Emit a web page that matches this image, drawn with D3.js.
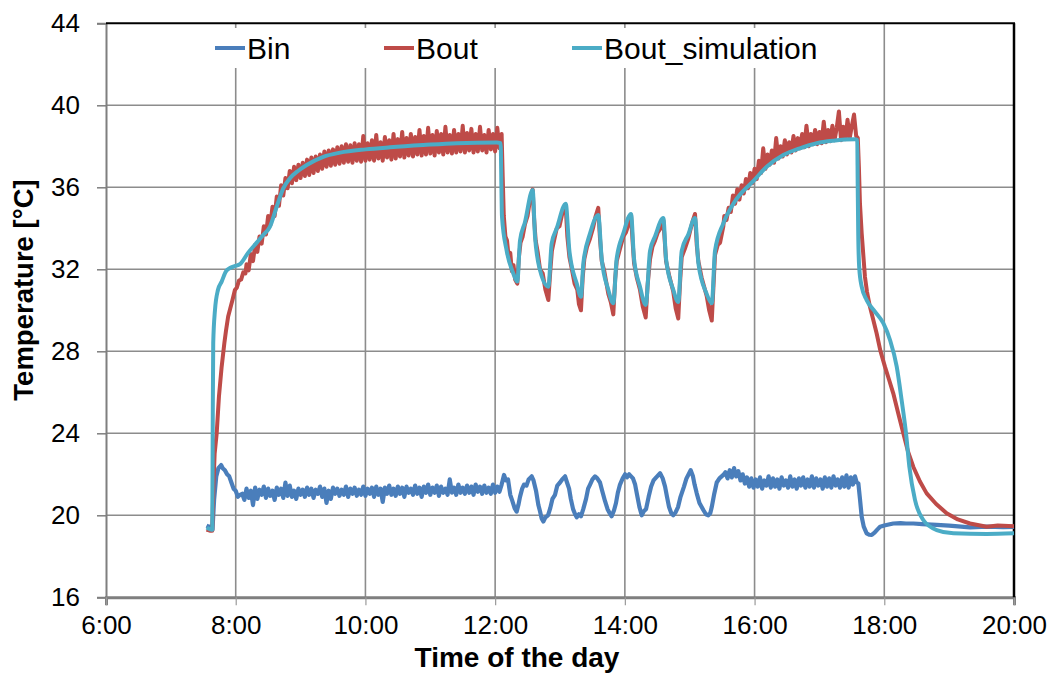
<!DOCTYPE html>
<html><head><meta charset="utf-8">
<script src="https://cdn.jsdelivr.net/npm/d3@7"></script>
<style>body{margin:0;background:#fff}svg{display:block;font-family:Arial,"Liberation Sans",sans-serif}</style>
</head><body><svg id="c" width="1055" height="679"></svg>
<script>
// time in minutes after midnight, temperature in °C
const xTicks = [360,480,600,720,840,960,1080,1200];
const yTicks = [16,20,24,28,32,36,40,44];
const seriesNames = ["Bin","Bout","Bout_simulation"];
const seriesColors = ["#4a7ebb","#be4b48","#4bacc6"];

const binSeries = [
[453,19.5],[455,19.45],[457.6,19.45],[458.5,19.3],[460,20.75],[462,21.9],[464,22.3],[466.5,22.45],[468,22.3],[470,22.2],[472,22.0],[474,21.9],[476,21.6],[478,21.3],[480,21.2],[482,20.9],[484,21.0],
[486,21.05],[488,20.75],[490,21.3],[492,20.85],[494,21.2],[496,20.5],[498,21.35],[500,20.8],[502,21.25],[504,21.0],[506,21.4],[508,20.85],[510,21.3],[512,20.95],[514,21.2],[516,20.75],[518,21.35],[520,21.0],[522,21.3],[524,20.85],[526,21.6],[528,20.95],[530,21.45],[532,20.9],[534,21.2],[536,20.8],[538,21.3],[540,21.0],[542,21.25],[544,20.9],[546,21.35],[548,21.0],[550,21.3],[552,20.85],[554,21.25],[556,21.05],[558,21.4],[560,20.9],[562,21.3],[564,20.6],[566,21.2],[568,20.8],[570,21.35],[572,21.05],[574,21.3],[576,20.95],[578,21.25],[580,21.0],[582,21.4],[584,20.9],[586,21.3],[588,21.05],[590,21.35],[592,20.95],[594,21.25],[596,21.0],[598,21.4],[600,20.95],[602,21.3],[604,21.05],[606,21.35],[608,20.9],[610,21.4],[612,21.0],[614,21.3],[616,20.65],[618,21.35],[620,21.05],[622,21.45],[624,21.0],[626,21.3],[628,20.95],[630,21.4],[632,21.05],[634,21.35],[636,20.9],[638,21.4],[640,21.1],[642,21.3],[644,21.0],[646,21.45],[648,21.05],[650,21.35],[652,20.9],[654,21.4],[656,21.1],[658,21.5],[660,21.0],[662,21.35],[664,21.1],[666,21.45],[668,20.95],[670,21.4],[672,21.1],[674,21.3],[676,21.0],[678,21.75],[680,21.1],[682,21.35],[684,21.0],[686,21.5],[688,21.1],[690,21.35],[692,21.05],[694,21.45],[696,21.1],[698,21.4],[700,21.0],[702,21.5],[704,21.15],[706,21.4],[708,21.05],[710,21.45],[712,21.1],[714,21.35],[716,21.05],[718,21.5],[720,21.1],[722,21.4],[724,21.15],
[726,21.5],[728.2,21.97],[730,21.7],[731.9,21.75],[734,21.0],[735.6,20.75],[738,20.35],[739.9,20.18],[741.5,20.5],[743,20.9],[745,21.3],[746.7,21.5],[749,21.45],[751,21.75],[753.8,21.9],[755.5,21.7],[757.8,21.2],[760,20.5],[761.5,20.2],[763,19.85],[764.6,19.7],[766.5,19.9],[768.9,20.0],[771,20.35],[773,20.8],[775.4,21.0],[777.5,21.45],[780,21.6],[782,21.75],[784.7,21.9],[786.5,21.6],[788.4,21.3],[790,20.8],[792.1,20.3],[794,20.05],[795.5,19.9],[797.5,20.05],[799.4,19.95],[801.5,20.3],[804.1,20.8],[806,21.3],[807.8,21.5],[810,21.75],[812.4,21.9],[814.5,21.8],[817,21.6],[819,21.2],[821.6,20.7],[824,20.3],[826,20.1],[827.8,19.95],[830,20.25],[831.8,20.6],[833.5,21.1],[835.5,21.5],[838,21.8],[840.2,22.0],[842,21.85],[844,22.0],[847.5,21.8],[849.5,21.5],[851.3,21.0],[853.5,20.4],[855.6,20.0],[857.5,20.2],[859.6,20.3],[862,20.9],[864.3,21.4],[866.5,21.7],[869,21.85],[872.6,22.05],[875,21.8],[877.2,21.4],[879,20.9],[880.9,20.4],[883,20.1],[884.8,20.0],[887,20.15],[889.2,20.4],[891.5,20.9],[894.7,21.4],[897,21.8],[899,22.0],[900.9,22.2],[903,21.9],[904.5,21.5],[906.5,21.07],[909,20.6],[912.6,20.26],[915,20.05],[917.2,20.0],[919,20.1],[920.4,20.4],[922.5,21.0],[925,21.6],[927.5,21.8],[931.1,21.97],
[933,22.1],[935,21.8],[937,22.2],[939,21.85],[941,22.3],[943,21.9],[945,22.15],[947,21.7],[949,22.0],[951,21.55],[953,21.85],[955,21.4],[957,21.8],[959,21.35],[961,21.75],[963,21.4],[965,21.85],[967,21.3],[969,21.7],[971,21.45],[973,21.9],[975,21.35],[977,21.8],[979,21.4],[981,21.75],[983,21.3],[985,21.85],[987,21.45],[989,21.7],[991,21.35],[993,21.9],[995,21.4],[997,21.75],[999,21.3],[1001,21.8],[1003,21.45],[1005,21.85],[1007,21.35],[1009,21.75],[1011,21.4],[1013,21.9],[1015,21.35],[1017,21.8],[1019,21.45],[1021,21.75],[1023,21.3],[1025,21.85],[1027,21.4],[1029,21.8],[1031,21.35],[1033,21.9],[1035,21.45],[1037,21.75],[1039,21.35],[1041,21.85],[1043,21.4],[1045,21.95],[1047,21.35],[1049,21.85],[1051,21.5],[1052.9,21.9],[1054.5,21.6],[1056,21.56],
[1057.5,20.8],[1059.1,19.93],[1061,19.45],[1063.7,19.12],[1066,19.05],[1068.4,19.04],[1071,19.15],[1073.5,19.3],[1076.1,19.44],[1080,19.5],[1084,19.55],[1088.4,19.6],[1095,19.62],[1100,19.6],[1106.9,19.6],[1115,19.57],[1128.5,19.53],[1140,19.5],[1159.3,19.41],[1175,19.45],[1190,19.42],[1200,19.44]
];

const boutSeries = [
[453,19.3],[456,19.25],[458.3,19.25],[459.4,21.5],[460.5,23.0],[462.4,24.0],[464.5,25.8],[467,27.25],[469.5,28.4],[471,29.0],[473,29.7],[475,30.1],[477,30.5],[479.3,31.0],[481,31.1],[483,31.45],[485,31.5],[487,31.85],[489,31.8],
[490,32.25],[492,31.95],[494,32.75],[496,32.4],[498,33.2],[500,32.85],[502,33.6],[504,33.25],[506,34.1],[508,33.7],[510,34.6],[512,34.15],[514,35.05],[516,34.6],[518,35.55],[520,35.1],[522,36.1],[524,35.6],[526,36.45],[528,35.95],[530,36.8],[532,36.2],[534,37.0],[536,36.35],[538,37.1],[540,36.45],[542,37.2],[544,36.55],[546,37.35],[548,36.6],[550,37.45],[552,36.7],[554,37.5],[556,36.8],[558,37.6],[560,36.9],[562,37.75],[564,37.0],[566,37.8],[568,37.05],[570,37.85],[572,37.1],[574,37.95],[576,37.15],[578,38.0],[580,37.2],[582,38.1],[584,37.25],[586,38.05],[588,37.2],[590,38.15],[592,37.3],[594,38.1],[596,37.25],[598,38.5],[600,37.3],[602,38.15],[604,37.35],[606,38.3],[608,37.3],[610,38.55],[612,37.4],[614,38.2],[616,37.3],[618,38.45],[620,37.45],[622,38.3],[624,37.35],[626,38.6],[628,37.4],[630,38.35],[632,37.5],[634,38.7],[636,37.45],[638,38.4],[640,37.55],[642,38.6],[644,37.5],[646,38.45],[648,37.6],[650,38.8],[652,37.55],[654,38.5],[656,37.6],[658,38.9],[660,37.65],[662,38.55],[664,37.55],[666,38.75],[668,37.7],[670,38.6],[672,37.6],[674,38.95],[676,37.7],[678,38.55],[680,37.65],[682,38.8],[684,37.7],[686,38.6],[688,37.75],[690,39.0],[692,37.7],[694,38.65],[696,37.8],[698,38.85],[700,37.7],[702,38.6],[704,37.75],[706,38.95],[708,37.8],[710,38.55],[712,37.7],[714,38.8],[716,37.85],[718,38.6],[720,37.75],[722,38.9],[724,37.9],[726,38.6],
[727,36.5],[728,34.6],[729.5,33.6],[731,33.4],[732.5,32.6],[734,32.8],[735.5,31.9],[737,32.2],[738.5,31.5],[740.5,31.3],
[742,32.6],[743.5,33.3],[745.5,33.6],[747.6,34.2],[750,34.6],[752,35.3],[754.7,35.9],[756,34.5],[757.5,33.4],[759.5,32.8],[761.5,32.0],[764,31.8],[766.5,31.0],[769.2,30.5],
[771,31.9],[772.5,32.9],[774.5,33.4],[777,34.0],[779.5,34.1],[782,34.7],[785.3,35.05],[786.8,33.6],[788.7,32.6],[791,32.0],[793.5,31.3],[796,31.0],[797.5,30.3],[799.4,30.0],
[801,31.6],[802.5,32.5],[805,33.1],[807.8,33.5],[810.5,34.0],[813,34.6],[815.4,35.0],[817,33.5],[818.6,32.4],[821,31.9],[824.7,30.8],[827,30.4],[829.3,29.8],
[831,31.5],[832.5,32.4],[835,32.9],[838.6,33.6],[841,33.8],[843.5,34.2],[845.7,34.65],[847,33.5],[848.5,32.3],[851,31.6],[854,31.0],[856.5,30.2],[859.3,29.65],
[861,31.2],[863.3,32.5],[865.5,33.1],[867.9,33.4],[870.5,33.8],[873,34.0],[875.6,34.4],[877,33.3],[878.1,32.4],[881,31.7],[884.8,30.9],[887,30.1],[889.4,29.6],
[891,31.3],[892.6,32.6],[895.5,33.0],[898.7,33.5],[901,34.0],[903,34.4],[904.9,34.7],[906.5,33.2],[908,32.4],[911,31.6],[915.7,30.7],[918,30.0],[920.4,29.5],
[922,31.2],[923.4,32.7],[926,33.2],[928.1,33.3],[931.1,34.1],
[932,34.6],[934,34.4],[936,35.0],[938,34.8],[940,35.6],[942,35.2],[944,35.9],[946,35.4],[948,36.1],[950,35.7],[952,36.4],[954,35.95],[956,36.7],[958,36.2],[960,36.9],[962,36.4],[964,37.3],[966,36.7],[968,37.9],[970,36.9],[972,37.6],[974,37.1],[976,37.8],[978,37.2],[980,38.4],[982,37.4],[984,38.0],[986,37.5],[988,38.3],[990,37.6],[992,38.2],[994,37.7],[996,38.5],[998,37.8],[1000,38.4],[1002,37.9],[1004,38.6],[1006,37.95],[1008,39.0],[1010,38.0],[1012,38.6],[1014,38.1],[1016,38.8],[1018,38.1],[1020,38.7],[1022,38.15],[1024,39.2],[1026,38.2],[1028,38.8],[1030,38.25],[1032,39.0],[1034,38.3],[1036,38.9],[1038,39.7],[1040,38.3],[1042,38.95],[1044,38.35],[1046,39.3],[1048,38.4],[1050,39.0],[1052,39.55],[1054,38.5],[1055.5,38.4],
[1056.5,37.0],[1057.5,35.2],[1059.1,33.75],[1062.1,31.64],[1064,30.9],[1066.7,30.18],[1069.5,29.6],[1072.9,28.88],[1076.5,28.0],[1080.6,27.25],[1084.5,26.6],[1088.3,25.95],[1093,24.95],[1097.6,24.0],[1102,23.1],[1106.8,22.37],[1113,21.65],[1119.2,21.07],[1128,20.55],[1137.7,20.1],[1148,19.8],[1159.3,19.6],[1174.7,19.44],[1185,19.5],[1200,19.47]
];

const simSeries = [
[453.2,19.4],[457.6,19.3],[458.3,19.3],[458.7,24.0],[459.2,28.4],[460.8,30.0],[463.6,31.0],[467.0,31.4],[471.0,31.9],[474.7,32.06],[479,32.15],[484.0,32.25],[491.4,32.8],[499.4,33.3],[505,33.65],[511.7,34.08],[517.9,35.05],[524.0,35.95],[530.2,36.44],[537.9,36.81],[545.7,37.09],[561.0,37.49],[576.5,37.69],[600.2,37.85],[622.7,37.95],[653.5,38.06],[684.4,38.15],[721.4,38.18],
[725.1,38.15],[725.8,36.0],[726.3,34.6],[730.7,32.9],[736.8,31.8],[740.5,31.4],
[743.0,33.4],[747.6,34.3],[754.7,35.87],[756.9,33.6],[761.5,31.96],[769.2,31.15],
[772.3,33.26],[777.0,34.0],[785.3,35.2],[788.7,32.9],[795.5,31.3],[799.4,30.66],
[801.6,32.3],[807.8,33.75],[815.4,34.65],[818.6,32.5],[824.7,31.0],[829.3,30.34],
[832.4,32.5],[838.6,33.75],[845.7,34.7],[848.5,32.5],[854.0,31.15],[859.3,30.26],
[863.3,32.9],[867.9,33.6],[875.6,34.5],[878.1,32.5],[884.8,31.0],[889.4,30.4],
[892.6,32.9],[898.7,33.7],[904.9,34.5],[908.0,32.3],[915.7,30.8],[920.4,30.34],
[923.4,32.9],[931.1,34.24],[940.4,35.2],[959.7,36.35],[971.2,37.0],[986.6,37.57],[1001.9,37.9],[1017.5,38.15],[1032.8,38.27],[1052.9,38.34],
[1055.0,38.3],[1055.4,36.2],[1055.9,33.75],[1056.8,32.1],[1059.1,31.15],[1063.7,30.5],[1071.4,29.93],[1079.1,29.37],[1085.3,28.55],[1091.5,27.25],[1096.1,25.6],[1100.1,24.0],[1103.2,22.37],[1108.4,20.75],[1116.1,19.77],[1128.5,19.28],[1143.9,19.12],[1174.7,19.09],[1200,19.12]
];

const svg = d3.select("#c");
const L = 106, R = 1014, T = 23.3, B = 597.3;
const x = d3.scaleLinear().domain([360,1200]).range([L,R]);
const y = d3.scaleLinear().domain([16,44]).range([B,T]);
const grid = "#8c8c8c";

// gridlines
svg.append("g").selectAll("line").data(yTicks.filter(v=>v>16&&v<44)).join("line")
  .attr("x1",L).attr("x2",R).attr("y1",d=>y(d)).attr("y2",d=>y(d))
  .attr("stroke",grid).attr("stroke-width",1.6);
svg.append("g").selectAll("line").data(xTicks.filter(v=>v>360&&v<1200)).join("line")
  .attr("x1",d=>x(d)).attr("x2",d=>x(d)).attr("y1",T).attr("y2",B)
  .attr("stroke",grid).attr("stroke-width",1.6);

// legend background (hides grid)
const legendX = [215,384,572];
svg.append("rect").attr("x",205).attr("y",28).attr("width",640).attr("height",40).attr("fill","#fff");

// axes
const yAxis = d3.axisLeft(y).tickValues(yTicks).tickSize(9).tickPadding(17).tickFormat(d3.format("d"));
const gy = svg.append("g").attr("transform",`translate(${L},0)`).call(yAxis);
gy.select(".domain").attr("stroke","#7f7f7f").attr("stroke-width",2);
gy.selectAll(".tick line").attr("stroke","#7f7f7f").attr("stroke-width",1.5);
gy.selectAll(".tick text").attr("font-size",26).attr("fill","#000").attr("font-family","Arial, Liberation Sans, sans-serif");

const xAxis = d3.axisBottom(x).tickValues(xTicks).tickSize(8).tickPadding(10).tickFormat(d=>`${d/60}:00`);
const gx = svg.append("g").attr("transform",`translate(0,${B})`).call(xAxis);
gx.select(".domain").attr("stroke","#7f7f7f").attr("stroke-width",3);
gx.selectAll(".tick line").attr("stroke","#9a9a9a").attr("stroke-width",1.2);
gx.selectAll(".tick text").attr("font-size",26).attr("fill","#000").attr("font-family","Arial, Liberation Sans, sans-serif");

// frame top/right
svg.append("line").attr("x1",L).attr("x2",R+1).attr("y1",T).attr("y2",T).attr("stroke","#000").attr("stroke-width",2);
svg.append("line").attr("x1",R).attr("x2",R).attr("y1",T).attr("y2",B).attr("stroke","#000").attr("stroke-width",2.5);

// series
const line = d3.line().x(d=>x(d[0])).y(d=>y(d[1]));
const lineSmooth = d3.line().x(d=>x(d[0])).y(d=>y(d[1])).curve(d3.curveMonotoneX);
const plot = svg.append("g");
plot.append("path").datum(binSeries).attr("d",line).attr("fill","none").attr("stroke",seriesColors[0]).attr("stroke-width",4.2).attr("stroke-linejoin","round");
plot.append("path").datum(boutSeries).attr("d",line).attr("fill","none").attr("stroke",seriesColors[1]).attr("stroke-width",4).attr("stroke-linejoin","round");
plot.append("path").datum(simSeries).attr("d",lineSmooth).attr("fill","none").attr("stroke",seriesColors[2]).attr("stroke-width",4).attr("stroke-linejoin","round");

// legend
const lg = svg.append("g");
seriesNames.forEach((n,i)=>{
  lg.append("line").attr("x1",legendX[i]).attr("x2",legendX[i]+30).attr("y1",48).attr("y2",48)
    .attr("stroke",seriesColors[i]).attr("stroke-width",4);
  lg.append("text").attr("x",legendX[i]+32).attr("y",48).attr("dominant-baseline","central")
    .attr("font-size",30).text(n);
});

// axis titles
svg.append("text").attr("x",517).attr("y",667).attr("text-anchor","middle").attr("font-size",28).attr("font-weight","bold").text("Time of the day");
svg.append("text").attr("transform","translate(33,290) rotate(-90)").attr("text-anchor","middle").attr("font-size",27.5).attr("font-weight","bold").text("Temperature [°C]");
</script></body></html>
